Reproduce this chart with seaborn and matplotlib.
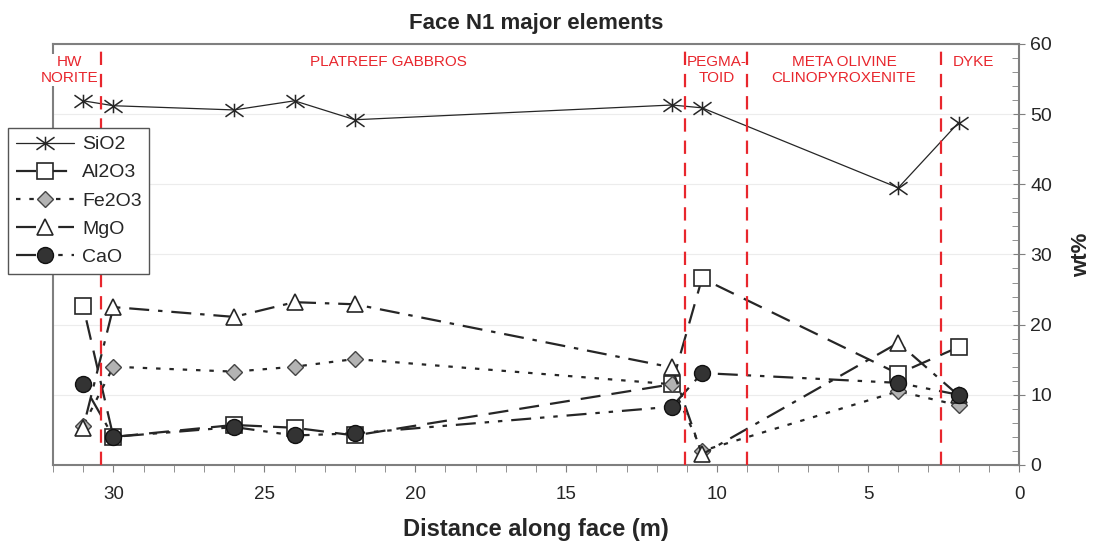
# -*- coding: utf-8 -*-
import matplotlib
matplotlib.use("Agg")
import matplotlib.pyplot as plt
from matplotlib.path import Path
from matplotlib.ticker import MultipleLocator
import pandas as pd
import seaborn as sns

# Data
distance = [31, 30, 26, 24, 22, 11.5, 10.5, 4, 2]
sio2 = [51.9, 51.2, 50.6, 51.9, 49.2, 51.3, 50.9, 39.5, 48.8]
al2o3 = [22.6, 4.0, 5.7, 5.3, 4.2, 11.5, 26.6, 13.0, 16.8]
fe2o3 = [5.6, 14.0, 13.3, 14.0, 15.1, 11.5, 2.0, 10.5, 8.5]
mgo = [5.3, 22.5, 21.1, 23.2, 22.9, 13.9, 1.5, 17.4, 9.9]
cao = [11.5, 4.0, 5.4, 4.2, 4.5, 8.3, 13.1, 11.7, 10.0]

zone_bounds = [30.4, 11.05, 9.0, 2.6]
zone_names = ["HW\nNORITE", "PLATREEF GABBROS", "PEGMA-\nTOID",
              "META OLIVINE\nCLINOPYROXENITE", "DYKE"]
zone_centres = [31.45, 20.9, 10.0, 5.8, 1.5]

df = pd.DataFrame({"Distance": distance, "SiO2": sio2, "Al2O3": al2o3,
                   "Fe2O3": fe2o3, "MgO": mgo, "CaO": cao})

sns.set_style("white")
plt.rcParams["font.family"] = ["Liberation Sans", "DejaVu Sans"]

red = "#e8262d"
grey = "#7f7f7f"
dark = "#262626"

# Excel-like star marker (X with a vertical bar)
star = Path([(0, -0.75), (0, 0.75), (-1, -0.7), (1, 0.7), (-1, 0.7), (1, -0.7)],
            [Path.MOVETO, Path.LINETO, Path.MOVETO, Path.LINETO,
             Path.MOVETO, Path.LINETO])

styles = {
    "SiO2": dict(marker=star, markersize=13, markerfacecolor="none",
                 markeredgecolor=dark, markeredgewidth=1.1,
                 linewidth=0.9, linestyle="-"),
    "Al2O3": dict(marker="s", markersize=11, markerfacecolor="white",
                  markeredgecolor=dark, markeredgewidth=1.2,
                  linewidth=1.6, linestyle=(0, (9, 5))),
    "Fe2O3": dict(marker="D", markersize=8.5, markerfacecolor="#b3b3b3",
                  markeredgecolor="#444444", markeredgewidth=1.0,
                  linewidth=1.6, linestyle=(0, (2, 4))),
    "MgO": dict(marker="^", markersize=12, markerfacecolor="white",
                markeredgecolor=dark, markeredgewidth=1.2,
                linewidth=1.6, linestyle=(0, (9, 4, 2, 4))),
    "CaO": dict(marker="o", markersize=11.5, markerfacecolor="#333333",
                markeredgecolor="#111111", markeredgewidth=1.0,
                linewidth=1.6, linestyle=(0, (9, 4, 2, 4, 2, 4))),
}

fig = plt.figure(figsize=(10.95, 5.47), dpi=100)
ax = fig.add_axes([0.0484, 0.150, 0.8822, 0.7696])

# Zone boundaries (drawn above the label boxes)
for xb in zone_bounds:
    ax.axvline(xb, color=red, linewidth=1.6, linestyle=(0, (6, 4)), zorder=4.5)

for element, kw in styles.items():
    sns.lineplot(data=df, x="Distance", y=element, color=dark,
                 label=element, ax=ax, zorder=3, **kw)

# Zone labels
for name, xc in zip(zone_names, zone_centres):
    bbox = dict(facecolor="white", edgecolor="none", pad=0.5) if name.startswith("HW") else None
    ax.text(xc, 58.5, name, ha="center", va="top", color=red, fontsize=11,
            linespacing=1.25, bbox=bbox, zorder=4)

ax.set_xlim(32, 0)
ax.set_ylim(0, 60)
ax.xaxis.set_major_locator(MultipleLocator(5))
ax.xaxis.set_minor_locator(MultipleLocator(1))
ax.yaxis.set_major_locator(MultipleLocator(10))
ax.yaxis.set_minor_locator(MultipleLocator(2))
ax.yaxis.tick_right()
ax.yaxis.set_label_position("right")

ax.tick_params(axis="x", which="both", direction="out", length=5,
               color=grey, labelsize=13.5, pad=10, bottom=True)
ax.tick_params(axis="y", which="major", direction="inout", length=9,
               color=grey, labelsize=14, right=True, left=False)
ax.tick_params(axis="y", which="minor", direction="in", length=5,
               color=grey, right=True, left=False)

ax.grid(True, axis="y", which="major", color="#ececec", linewidth=0.8, zorder=0)
ax.grid(False, axis="x")
for side in ax.spines.values():
    side.set_visible(True)
    side.set_color(grey)
    side.set_linewidth(1.5)

ax.set_title("Face N1 major elements", fontsize=16, fontweight="bold", pad=11)
ax.set_xlabel("Distance along face (m)", fontsize=17, fontweight="bold", labelpad=11)
ax.set_ylabel("wt%", fontsize=16, fontweight="bold", labelpad=14)

leg = ax.legend(loc="upper left", bbox_to_anchor=(0.0073, 0.766),
                bbox_transform=fig.transFigure, borderaxespad=0,
                fontsize=14, handlelength=3.0, handletextpad=0.4,
                labelspacing=0.54, borderpad=0.4, fancybox=False,
                framealpha=1, edgecolor="#555555")
leg.get_frame().set_linewidth(1.0)
leg.set_zorder(5)

fig.savefig("out.png", dpi=100)
